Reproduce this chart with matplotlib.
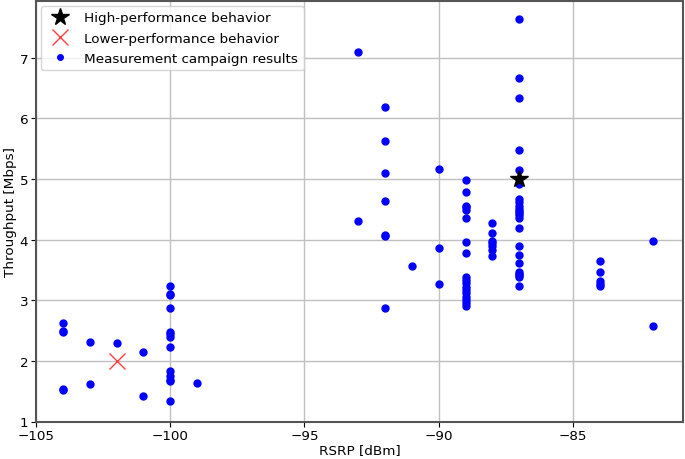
import matplotlib
matplotlib.use("Agg")
import matplotlib.pyplot as plt

# Measurement campaign results (RSRP dBm, throughput Mbps)
rsrp = (
    [-104] * 5 + [-103] * 2 + [-102] + [-101] * 2 + [-100] * 13 + [-99]
    + [-93] * 2 + [-92] * 7 + [-91] + [-90] * 3 + [-89] * 18 + [-88] * 7
    + [-87] * 23 + [-84] * 5 + [-82] * 2
)
throughput = (
    [2.62, 2.49, 2.47, 1.54, 1.52]
    + [2.31, 1.62]
    + [2.29]
    + [2.14, 1.42]
    + [3.24, 3.11, 3.08, 2.87, 2.47, 2.44, 2.40, 2.22, 1.83, 1.75, 1.69, 1.67, 1.33]
    + [1.63]
    + [7.09, 4.31]
    + [6.18, 5.63, 5.09, 4.63, 4.07, 4.05, 2.87]
    + [3.56]
    + [5.17, 3.86, 3.27]
    + [4.98, 4.78, 4.56, 4.53, 4.48, 4.35, 3.96, 3.78, 3.39, 3.29, 3.21, 3.17,
       3.12, 3.06, 3.01, 2.96, 2.91, 3.34]
    + [4.27, 4.10, 3.98, 3.94, 3.90, 3.82, 3.73]
    + [7.63, 6.67, 6.34, 5.48, 5.15, 4.91, 4.66, 4.62, 4.51, 4.44, 4.40, 4.35,
       4.19, 3.90, 3.75, 3.61, 3.47, 3.43, 3.41, 3.38, 3.23, 4.55, 4.47]
    + [3.65, 3.47, 3.32, 3.27, 3.23]
    + [3.97, 2.58]
)

high_x, high_y = [-87], [5.0]
low_x, low_y = [-102], [2.0]

xticks = [-105, -100, -95, -90, -85]
yticks = [1, 2, 3, 4, 5, 6, 7]

FS = 9.7

fig = plt.figure(figsize=(6.85, 4.6), dpi=100)
ax = fig.add_axes([36 / 685, (460 - 422.5) / 460, (683 - 36) / 685, (421) / 460])

ax.plot(high_x, high_y, linestyle="none", marker="*", color="black",
        markersize=13, label="High-performance behavior", zorder=4)
ax.plot(low_x, low_y, linestyle="none", marker="x", color="#ff4040",
        markersize=11, markeredgewidth=1.0, label="Lower-performance behavior", zorder=4)
ax.plot(rsrp, throughput, linestyle="none", marker="o", color="blue",
        markersize=5, label="Measurement campaign results", zorder=3)

ax.set_xlim(-105, -80.9)
ax.set_ylim(1, 7.94)
ax.set_xticks(xticks)
ax.set_yticks(yticks)
ax.grid(True, color="#c0c0c0", linewidth=1.0)
ax.set_axisbelow(True)
for s in ax.spines.values():
    s.set_color("#555555")
    s.set_linewidth(1.5)
ax.tick_params(labelsize=FS, pad=2)

ax.set_xlabel("RSRP [dBm]", fontsize=FS, labelpad=1)
ax.set_ylabel("Throughput [Mbps]", fontsize=FS, labelpad=2)

leg = ax.legend(loc="upper left", fontsize=FS, borderaxespad=0.4,
                handletextpad=0.8, labelspacing=0.55)
leg.legend_handles[2].set_markersize(4)

fig.savefig("out.png", dpi=100)
